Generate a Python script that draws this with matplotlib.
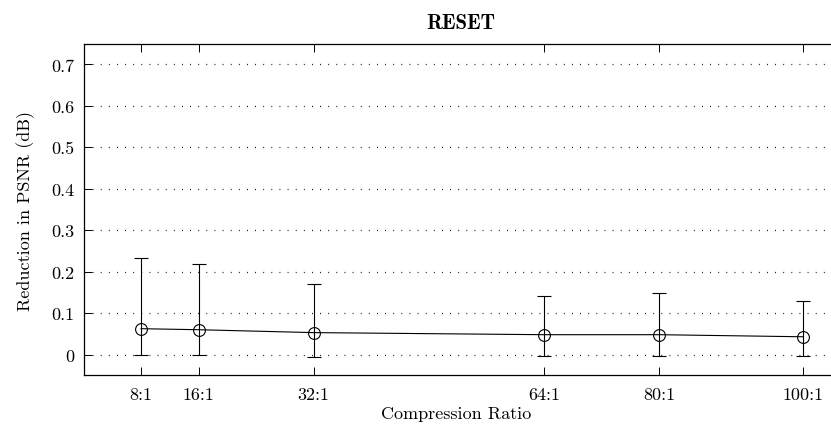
import matplotlib
matplotlib.use("Agg")
import matplotlib.pyplot as plt
import numpy as np

# compression ratios and PSNR reduction stats
ratios = [8, 16, 32, 64, 80, 100]
ratio_labels = ["8:1", "16:1", "32:1", "64:1", "80:1", "100:1"]
mean_drop = [0.0625, 0.060, 0.053, 0.048, 0.048, 0.043]
low_drop = [0.000, 0.000, -0.005, -0.004, -0.003, -0.004]
high_drop = [0.234, 0.219, 0.171, 0.141, 0.148, 0.130]
y_ticks = [0, 0.1, 0.2, 0.3, 0.4, 0.5, 0.6, 0.7]
y_tick_labels = ["0", "0.1", "0.2", "0.3", "0.4", "0.5", "0.6", "0.7"]

plt.rcParams['font.family'] = 'cmr10'
plt.rcParams['mathtext.fontset'] = 'cm'
plt.rcParams['axes.formatter.use_mathtext'] = True
plt.rcParams['font.size'] = 13

fig = plt.figure(figsize=(8.31, 4.27), dpi=100)
# axes runs past the right edge of the figure
ax = fig.add_axes([0.1005, 0.1187, 0.92, 0.7766])

mean = np.array(mean_drop)
yerr = np.vstack([mean - np.array(low_drop), np.array(high_drop) - mean])

ax.errorbar(ratios, mean, yerr=yerr, color='black', lw=0.8, elinewidth=0.8,
            capsize=4.7, capthick=0.8, marker='o', markersize=8.5,
            markerfacecolor='none', markeredgecolor='black', markeredgewidth=0.8,
            zorder=3)

ax.set_xlim(0, 106.3)
ax.set_ylim(-0.05, 0.75)
ax.set_xticks(ratios)
ax.set_xticklabels(ratio_labels)
ax.set_yticks(y_ticks)
ax.set_yticklabels(y_tick_labels)

ax.yaxis.grid(True, color='black', linestyle=(0, (0.7, 5.8)), lw=0.9)
ax.set_axisbelow(True)
ax.tick_params(direction='in', length=5.8, width=0.7, top=True, right=True,
               labelsize=13)
ax.tick_params(axis='x', pad=8)
ax.tick_params(axis='y', pad=6.5)
for s in ax.spines.values():
    s.set_linewidth(0.9)

ax.set_xlabel("Compression Ratio", fontsize=13, labelpad=3, x=0.488)
ax.set_ylabel("Reduction in PSNR (dB)", fontsize=13, labelpad=12)
ax.set_title("RESET", fontsize=15, family='cmb10', pad=11, x=0.494)

fig.savefig("out.png", dpi=100)
